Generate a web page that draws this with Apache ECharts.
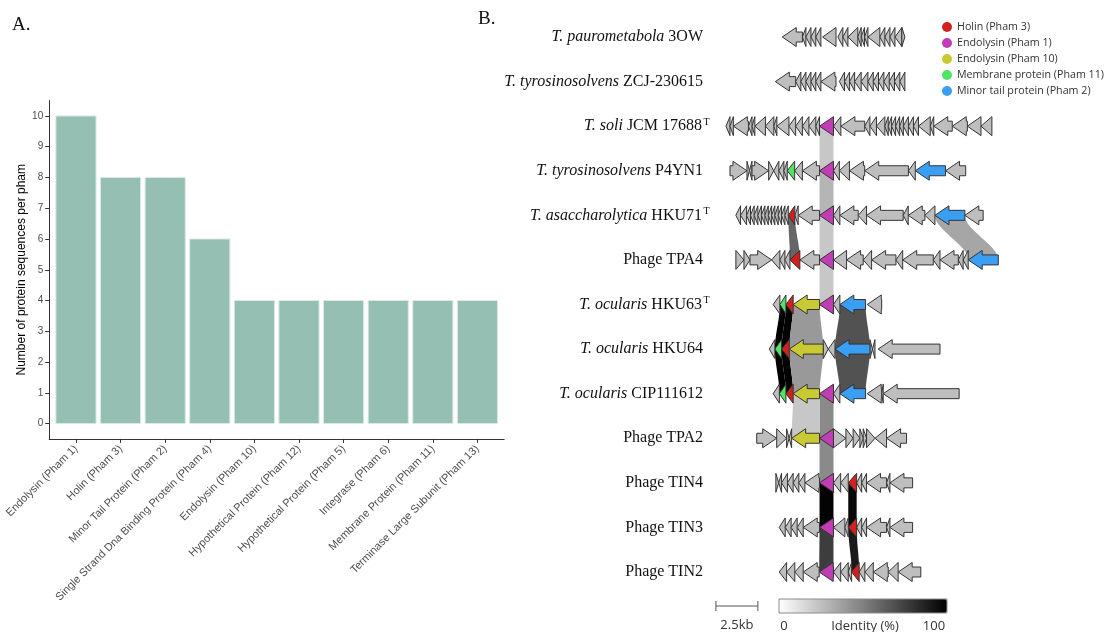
<!DOCTYPE html>
<html><head><meta charset="utf-8">
<script src="https://cdn.jsdelivr.net/npm/echarts@6/dist/echarts.min.js"></script>
<style>html,body{margin:0;padding:0;background:#fff}#c{width:1104px;height:632px}</style>
</head><body><div id="c"></div>
<script>
// ---------- Panel A data ----------
const categories = ['Endolysin (Pham 1)','Holin (Pham 3)','Minor Tail Protein (Pham 2)','Single Strand Dna Binding Protein (Pham 4)','Endolysin (Pham 10)','Hypothetical Protein (Pham 12)','Hypothetical Protein (Pham 5)','Integrase (Pham 6)','Membrane Protein (Pham 11)','Terminase Large Subunit (Pham 13)'];
const counts = [10,8,8,6,4,4,4,4,4,4];
const yTicks = [0,1,2,3,4,5,6,7,8,9,10];
const xTicks = [0,1,2,3,4,5,6,7,8,9];

// ---------- Panel B data ----------
const trackItalic = ['T. paurometabola','T. tyrosinosolvens','T. soli','T. tyrosinosolvens','T. asaccharolytica','','T. ocularis','T. ocularis','T. ocularis','','','',''];
const trackRoman  = ['3OW','ZCJ-230615','JCM 17688','P4YN1','HKU71','Phage TPA4','HKU63','HKU64','CIP111612','Phage TPA2','Phage TIN4','Phage TIN3','Phage TIN2'];
const trackSup    = ['','','T','','T','','T','','','','','',''];

const phamIds    = [3, 1, 10, 11, 2];
const phamNames  = ['Holin (Pham 3)','Endolysin (Pham 1)','Endolysin (Pham 10)','Membrane protein (Pham 11)','Minor tail protein (Pham 2)'];
const phamColors = ['#d41f1f','#c23db5','#c9c934','#4fe462','#3a9ef2'];

// genes: [start kb, end kb, strand, pham (0 = other)]
const g3OW = [[4.90,6.10,-1,0],[6.10,6.31,-1,0],[6.31,6.61,-1,0],[6.61,6.90,-1,0],[6.90,7.20,-1,0],[7.30,8.10,-1,0],[8.21,8.51,-1,0],[8.51,8.81,-1,0],[8.81,9.40,-1,0],[9.40,9.60,-1,0],[9.60,9.80,-1,0],[9.80,10.00,-1,0],[10.00,10.71,-1,0],[10.71,11.01,-1,0],[11.01,11.31,-1,0],[11.31,11.61,-1,0],[11.61,12.02,-1,0],[12.02,12.20,1,0]];
const gZCJ = [[4.49,5.70,-1,0],[5.70,6.01,-1,0],[6.01,6.31,-1,0],[6.31,6.61,-1,0],[6.61,6.90,-1,0],[6.90,7.20,-1,0],[7.20,8.10,-1,0],[8.30,8.61,-1,0],[8.61,8.91,-1,0],[8.91,9.21,-1,0],[9.21,9.60,-1,0],[9.60,10.00,-1,0],[10.00,10.32,-1,0],[10.32,10.63,-1,0],[10.63,10.95,-1,0],[10.95,11.27,-1,0],[11.27,11.58,-1,0],[11.58,11.90,-1,0],[11.90,12.20,-1,0]];
const gSoli = [[1.55,1.79,-1,0],[1.79,1.99,-1,0],[1.99,2.89,-1,0],[2.89,3.10,-1,0],[3.10,3.27,-1,0],[3.27,3.90,-1,0],[3.90,4.40,-1,0],[4.40,4.58,-1,0],[4.58,5.30,-1,0],[5.30,5.70,-1,0],[5.70,6.10,-1,0],[6.10,6.49,-1,0],[6.49,6.90,-1,0],[6.90,7.12,-1,0],[7.12,7.95,-1,1],[7.95,8.39,-1,0],[8.39,9.81,-1,0],[9.81,10.12,-1,0],[10.12,10.51,-1,0],[10.51,11.01,-1,0],[11.01,11.21,-1,0],[11.21,11.41,-1,0],[11.41,11.65,-1,0],[11.65,11.89,-1,0],[11.89,12.11,-1,0],[12.11,12.41,-1,0],[12.41,12.71,-1,0],[12.71,13.01,-1,0],[13.01,13.71,-1,0],[13.71,13.92,-1,0],[13.92,15.02,-1,0],[15.02,15.92,-1,0],[15.92,16.73,-1,0],[16.73,17.38,-1,0]];
const gP4YN1 = [[1.79,2.80,1,0],[2.80,2.95,1,0],[2.95,3.10,-1,0],[3.10,4.09,1,0],[4.09,4.39,1,0],[4.39,4.70,-1,0],[4.70,5.00,-1,0],[5.00,5.20,-1,0],[5.20,5.64,-1,11],[5.64,6.10,-1,0],[6.10,7.12,-1,0],[7.12,7.95,-1,1],[7.95,8.30,-1,0],[8.30,8.90,-1,0],[8.90,9.81,-1,0],[9.81,12.41,-1,0],[12.41,12.82,-1,0],[12.82,14.62,-1,2],[14.62,15.82,-1,0]];
const gHKU71 = [[2.14,2.42,-1,0],[2.42,2.78,-1,0],[2.78,3.01,-1,0],[3.01,3.23,-1,0],[3.23,3.45,-1,0],[3.45,3.66,-1,0],[3.66,3.87,-1,0],[3.87,4.07,-1,0],[4.07,4.27,-1,0],[4.27,4.46,-1,0],[4.46,4.66,-1,0],[4.66,4.86,-1,0],[4.86,5.06,-1,0],[5.06,5.26,-1,0],[5.26,5.65,-1,3],[5.65,5.85,-1,0],[5.85,7.12,-1,0],[7.12,7.95,-1,1],[7.95,8.33,-1,0],[8.33,9.42,-1,0],[9.42,9.92,-1,0],[9.92,12.10,-1,0],[12.10,12.40,-1,0],[12.40,13.39,-1,0],[13.39,13.99,-1,0],[13.99,15.77,-1,2],[15.77,16.86,-1,0]];
const gTPA4 = [[2.14,2.62,1,0],[2.62,2.98,1,0],[2.98,4.27,1,0],[4.27,4.76,-1,0],[4.76,5.06,-1,0],[5.06,5.36,-1,0],[5.36,5.95,-1,3],[5.95,7.12,-1,0],[7.12,7.95,-1,1],[7.95,8.73,-1,0],[8.73,9.72,-1,0],[9.72,10.22,-1,0],[10.22,11.67,-1,0],[11.67,12.07,-1,0],[12.07,13.89,-1,0],[13.89,14.29,-1,0],[14.29,15.38,-1,0],[15.38,15.67,-1,0],[15.67,15.97,-1,0],[15.97,17.76,-1,2]];
const gHKU63 = [[4.36,4.76,-1,0],[4.76,5.12,-1,11],[5.12,5.55,-1,3],[5.55,7.12,-1,10],[7.12,7.95,-1,1],[7.95,8.33,-1,0],[8.33,9.86,-1,2],[9.96,10.82,-1,0]];
const gHKU64 = [[4.13,4.46,-1,0],[4.46,4.86,-1,11],[4.86,5.32,-1,3],[5.32,7.34,-1,10],[7.34,7.64,1,0],[7.64,8.04,-1,0],[8.04,10.12,-1,2],[10.12,10.27,1,0],[10.27,10.42,-1,0],[10.61,14.29,-1,0]];
const gCIP = [[4.36,4.73,-1,0],[4.73,5.12,-1,11],[5.12,5.55,-1,3],[5.55,7.12,-1,10],[7.12,7.95,-1,1],[7.95,8.33,-1,0],[8.33,9.86,-1,2],[9.96,10.82,-1,0],[10.82,10.91,-1,0],[10.91,15.43,-1,0]];
const gTPA2 = [[3.38,4.57,1,0],[4.57,5.16,1,0],[5.16,5.31,1,0],[5.31,5.46,-1,0],[5.46,7.12,-1,10],[7.12,7.95,-1,1],[7.95,8.69,1,0],[8.69,9.12,1,0],[9.12,9.52,1,0],[9.52,9.72,1,0],[9.72,9.92,1,0],[9.92,10.42,1,0],[10.42,11.11,-1,0],[11.11,12.30,-1,0]];
const gTIN4 = [[4.52,4.69,1,0],[4.69,4.86,-1,0],[4.86,5.21,-1,0],[5.21,5.55,-1,0],[5.55,5.89,-1,0],[5.89,6.25,-1,0],[6.25,7.12,-1,0],[7.12,7.95,-1,1],[7.95,8.38,-1,0],[8.38,8.83,-1,0],[8.83,9.33,-1,3],[9.33,9.63,-1,0],[9.63,9.92,-1,0],[9.92,11.11,-1,0],[11.11,11.31,-1,0],[11.31,12.66,-1,0]];
const gTIN3 = [[4.72,5.08,-1,0],[5.08,5.43,-1,0],[5.43,5.79,-1,0],[5.79,6.15,-1,0],[6.15,7.12,-1,0],[7.12,7.95,-1,1],[7.95,8.63,-1,0],[8.63,8.83,-1,0],[8.83,9.33,-1,3],[9.33,9.63,-1,0],[9.63,9.92,-1,0],[9.92,11.11,-1,0],[11.11,11.31,-1,0],[11.31,12.66,-1,0]];
const gTIN2 = [[4.72,5.16,-1,0],[5.16,5.65,-1,0],[5.65,6.15,-1,0],[6.15,7.10,-1,0],[7.10,7.95,-1,1],[7.95,8.38,-1,0],[8.38,8.83,-1,0],[8.83,9.03,-1,0],[9.03,9.48,-1,3],[9.48,9.82,-1,0],[9.82,10.32,-1,0],[10.32,11.21,-1,0],[11.21,11.80,-1,0],[11.80,13.15,-1,0]];
const trackGenes = [g3OW,gZCJ,gSoli,gP4YN1,gHKU71,gTPA4,gHKU63,gHKU64,gCIP,gTPA2,gTIN4,gTIN3,gTIN2];

// links: [track A, A start, A end, track B, B start, B end, identity %]
const links = [
  [2,7.12,7.95,3,7.12,7.95,22],[3,7.12,7.95,4,7.12,7.95,29],[4,7.12,7.95,5,7.12,7.95,22],[5,7.12,7.95,6,7.12,7.95,22],
  [8,7.12,7.95,9,7.12,7.95,46],[9,7.12,7.95,10,7.12,7.95,46],[10,7.12,7.95,11,7.12,7.95,99],[11,7.12,7.95,12,7.10,7.95,76],
  [4,5.26,5.65,5,5.36,5.95,60],[6,5.12,5.55,7,4.86,5.32,99],[7,4.86,5.32,8,5.12,5.55,99],[10,8.83,9.33,11,8.83,9.33,97],[11,8.83,9.33,12,9.03,9.48,90],
  [6,4.76,5.12,7,4.46,4.86,100],[7,4.46,4.86,8,4.73,5.12,100],
  [6,5.55,7.12,7,5.32,7.34,40],[7,5.32,7.34,8,5.55,7.12,40],[8,5.55,7.12,9,5.46,7.12,22],
  [4,13.99,15.77,5,15.97,17.76,35],[6,8.33,9.86,7,8.04,10.12,68],[7,8.04,10.12,8,8.33,9.86,68]
];
const scaleBarKb = [0.95, 3.45];
const scaleBarLabel = '2.5kb';

// ---------- build ----------
const trackNames = trackRoman.map((r,i)=> (trackItalic[i] ? trackItalic[i]+' ' : '') + r + trackSup[i]);
const geneData = {0: []};
phamIds.forEach(p => geneData[p] = []);
trackGenes.forEach((arr, t) => arr.forEach(g => geneData[g[3]].push([g[0], g[1], t, g[2]])));

function geneRender(color) {
  return function(params, api) {
    const s = api.value(0), e = api.value(1), t = api.value(2), str = api.value(3);
    const p1 = api.coord([s, t]), p2 = api.coord([e, t]);
    const x1 = p1[0], x2 = p2[0], y = p1[1];
    const len = x2 - x1, H = 9.5, B = 5, HL = 14;
    let pts;
    if (str < 0) {
      if (len <= HL) pts = [[x1,y],[x2,y-H],[x2,y+H]];
      else pts = [[x1,y],[x1+HL,y-H],[x1+HL,y-B],[x2,y-B],[x2,y+B],[x1+HL,y+B],[x1+HL,y+H]];
    } else {
      if (len <= HL) pts = [[x2,y],[x1,y-H],[x1,y+H]];
      else pts = [[x2,y],[x2-HL,y-H],[x2-HL,y-B],[x1,y-B],[x1,y+B],[x2-HL,y+B],[x2-HL,y+H]];
    }
    return {type:'polygon', shape:{points:pts}, style:{fill:color, stroke:'#343434', lineWidth:1}};
  };
}
function sig(t){ return t*t*(3-2*t); }
function linkRender(params, api) {
  const tA = api.value(0), tB = api.value(3);
  const A1 = api.coord([api.value(1), tA]), A2 = api.coord([api.value(2), tA]);
  const B1 = api.coord([api.value(4), tB]), B2 = api.coord([api.value(5), tB]);
  const N = 16, pts = [];
  for (let k = 0; k <= N; k++) { const t = k/N, s = sig(t); pts.push([A1[0]+(B1[0]-A1[0])*s, A1[1]+(B1[1]-A1[1])*t]); }
  for (let k = N; k >= 0; k--) { const t = k/N, s = sig(t); pts.push([A2[0]+(B2[0]-A2[0])*s, A2[1]+(B2[1]-A2[1])*t]); }
  return {type:'polygon', shape:{points:pts}, style:{fill: api.visual('color')}};
}

const series = [];
series.push({
  type:'custom', name:'counts', xAxisIndex:0, yAxisIndex:0,
  data: counts.map((v,i)=>[i,v]), encode:{x:0,y:1},
  renderItem: (params, api) => {
    const i = api.value(0), v = api.value(1);
    const a = api.coord([i-0.45, v]), b = api.coord([i+0.45, 0]);
    return {type:'rect', shape:{x:a[0], y:a[1], width:b[0]-a[0], height:b[1]-a[1]}, style:{fill:'#94bfb2', stroke:'#dce9e4', lineWidth:1}};
  }
});
series.push({
  type:'custom', name:'links', xAxisIndex:1, yAxisIndex:1, z:1, clip:false,
  data: links, encode:{x:[1,2,4,5], y:[0,3]}, renderItem: linkRender, silent:true
});
series.push({
  type:'custom', name:'Other genes', xAxisIndex:1, yAxisIndex:1, z:3, clip:false,
  data: geneData[0], encode:{x:[0,1], y:2}, renderItem: geneRender('#bebebe'), itemStyle:{color:'#bebebe'}
});
phamIds.forEach((p, k) => series.push({
  type:'custom', name: phamNames[k], xAxisIndex:1, yAxisIndex:1, z:4, clip:false,
  data: geneData[p], encode:{x:[0,1], y:2}, renderItem: geneRender(phamColors[k]), itemStyle:{color:phamColors[k]}
}));
series.push({
  type:'custom', name:'scale', xAxisIndex:1, yAxisIndex:1, z:4, clip:false,
  data:[[scaleBarKb[0], scaleBarKb[1], trackNames.length-1]], encode:{x:[0,1], y:2},
  renderItem: (params, api) => {
    const a = api.coord([api.value(0), api.value(2)]), b = api.coord([api.value(1), api.value(2)]);
    const y = a[1] + 34;
    const ls = {stroke:'#555', lineWidth:1};
    return {type:'group', children:[
      {type:'line', shape:{x1:a[0], y1:y, x2:b[0], y2:y}, style:ls},
      {type:'line', shape:{x1:a[0], y1:y-5, x2:a[0], y2:y+5}, style:ls},
      {type:'line', shape:{x1:b[0], y1:y-5, x2:b[0], y2:y+5}, style:ls},
      {type:'text', style:{text:scaleBarLabel, x:(a[0]+b[0])/2, y:y+19, align:'center', verticalAlign:'middle', fontFamily:'Open Sans', fontSize:13, fill:'#333'}}
    ]};
  }
});

const option = {
  animation:false,
  backgroundColor:'#fff',
  grid:[
    {left:49.2, right:599.8, top:100.6, bottom:193.1},
    {left:710, right:91.6, top:37, bottom:60}
  ],
  xAxis:[
    {type:'value', gridIndex:0, min:-0.6, max:9.6,
     axisLine:{show:true, onZero:false, lineStyle:{color:'#333', width:1}},
     axisTick:{show:true, inside:false, customValues:xTicks, length:4, lineStyle:{color:'#333'}},
     splitLine:{show:false},
     axisLabel:{customValues:xTicks, rotate:45, margin:8, formatter:(v)=>categories[Math.round(v)], fontFamily:'Liberation Sans', fontSize:11, color:'#4d4d4d'}},
    {type:'value', gridIndex:1, min:0.6, max:18.6, show:false}
  ],
  yAxis:[
    {type:'value', gridIndex:0, min:-0.5, max:10.5,
     name:'Number of protein sequences per pham', nameLocation:'middle', nameGap:22, nameRotate:90,
     nameTextStyle:{fontFamily:'Liberation Sans', fontSize:12, color:'#000'},
     axisLine:{show:true, onZero:false, lineStyle:{color:'#333', width:1}},
     axisTick:{show:true, inside:false, customValues:yTicks, length:4, lineStyle:{color:'#333'}},
     splitLine:{show:false},
     axisLabel:{customValues:yTicks, margin:6, fontFamily:'Liberation Sans', fontSize:10, color:'#4d4d4d'}},
    {type:'category', gridIndex:1, inverse:true, boundaryGap:false, data:trackNames,
     axisLine:{show:false}, axisTick:{show:false}, splitLine:{show:false},
     axisLabel:{interval:0, margin:0,
       formatter:(v, idx)=> (trackItalic[idx] ? '{i|'+trackItalic[idx]+'}{r| '+trackRoman[idx]+'}' : '{r|'+trackRoman[idx]+'}') + (trackSup[idx] ? '{s|'+trackSup[idx]+'}' : '{e| }'),
       rich:{
         i:{fontFamily:'Liberation Serif', fontStyle:'italic', fontSize:16, color:'#111', lineHeight:18},
         r:{fontFamily:'Liberation Serif', fontSize:16, color:'#111', lineHeight:18},
         s:{fontFamily:'Liberation Serif', fontSize:10, color:'#111', width:7, align:'left', verticalAlign:'top', lineHeight:10, padding:[0,0,0,1]},
         e:{fontFamily:'Liberation Serif', fontSize:10, width:7, lineHeight:10}
       }}}
  ],
  legend:{data:phamNames, orient:'vertical', left:942, top:20.5, padding:0, icon:'circle', itemWidth:10, itemHeight:10, itemGap:3, selectedMode:false,
    textStyle:{fontFamily:'Open Sans', fontSize:10.7, color:'#333', lineHeight:13}},
  visualMap:{type:'continuous', seriesIndex:1, dimension:6, min:0, max:100, inRange:{color:['#ffffff','#000000']},
    orient:'horizontal', left:779, top:599, padding:0, itemWidth:14, itemHeight:168, calculable:false, hoverLink:false},
  graphic:[
    {type:'text', left:12, top:16, style:{text:'A.', fontFamily:'Liberation Serif', fontSize:19, fill:'#111'}},
    {type:'text', left:478, top:10, style:{text:'B.', fontFamily:'Liberation Serif', fontSize:19, fill:'#111'}},
    {type:'rect', shape:{x:779, y:599, width:168, height:14}, style:{fill:'none', stroke:'#8c8c8c', lineWidth:1}, z:100},
    {type:'text', x:784, y:626, style:{text:'0', align:'center', verticalAlign:'middle', fontFamily:'Open Sans', fontSize:13, fill:'#333'}},
    {type:'text', x:865, y:626, style:{text:'Identity (%)', align:'center', verticalAlign:'middle', fontFamily:'Open Sans', fontSize:13, fill:'#333'}},
    {type:'text', x:934, y:626, style:{text:'100', align:'center', verticalAlign:'middle', fontFamily:'Open Sans', fontSize:13, fill:'#333'}}
  ],
  series: series
};
const chart = echarts.init(document.getElementById('c'), null, {renderer:'canvas'});
chart.setOption(option);
</script></body></html>
